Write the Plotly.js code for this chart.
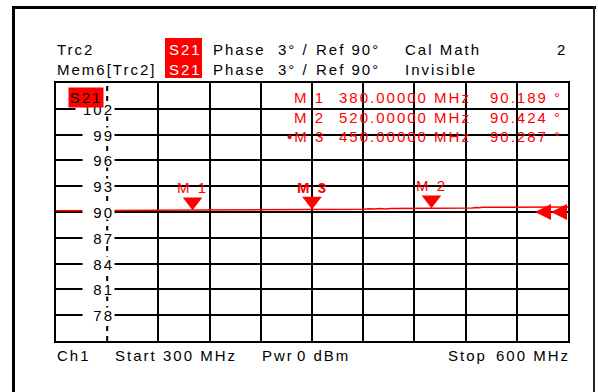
<!DOCTYPE html>
<html><head><meta charset="utf-8">
<script src="https://cdn.plot.ly/plotly-3.0.1.min.js"></script>
<style>
html,body{margin:0;padding:0;background:#fff;}
#chart{width:598px;height:392px;}
svg text{letter-spacing:2px;}
</style></head><body><div id="chart"></div>
<script>
// ---- data ----
const freqMHz  = [300, 320, 340, 360, 380, 384, 388, 392, 396, 400, 404, 420, 440, 450, 465, 480, 484, 487, 490, 493, 496, 505, 520, 532, 544, 546, 548, 550, 570, 600];
const phaseDeg = [90.15, 90.16, 90.17, 90.18, 90.189, 90.21, 90.24, 90.22, 90.27, 90.24, 90.28, 90.28, 90.285, 90.287, 90.30, 90.32, 90.37, 90.34, 90.40, 90.36, 90.41, 90.41, 90.424, 90.44, 90.46, 90.53, 90.49, 90.56, 90.57, 90.58];
const markerNames = ['M 1', 'M 2', 'M 3'];
const markerFreq  = [380, 520, 450];
const markerPhase = [90.189, 90.424, 90.287];
const activeMarker = 2;
const yTickVals = [78, 81, 84, 87, 90, 93, 96, 99, 102];
const xGridVals = [330, 360, 390, 420, 450, 480, 510, 540, 570];
const dashedGridVal = 330;
const refLevel = 90;
const traceLabels = ['Trc2', 'Mem6[Trc2]'];
const traceStatus = ['Cal Math', 'Invisible'];
const measParam = 'S21', formatName = 'Phase', scaleText = '3° /', refText = 'Ref 90°';
const channelName = 'Ch1', startLabel = 'Start', startText = '300 MHz', powerLabel = 'Pwr', powerText = '0 dBm', stopLabel = 'Stop', stopText = '600 MHz', channelNum = '2';

// ---- geometry ----
const L = 56, R = 568, T = 83, B = 341;
const pw = R - L, ph = B - T;
const px = x => (x - L) / pw, py = y => (B - y) / ph;
const xRange = [300, 600], yRange = [75, 105];
const degPerPx = (yRange[1] - yRange[0]) / ph;
const mhzPerPx = (xRange[1] - xRange[0]) / pw;
const FONT = '"Liberation Sans", Arial, sans-serif';
const RED = '#ff0000';

function txt(text, x, y, o) {
  o = o || {};
  return Object.assign({
    text: text, xref: 'paper', yref: 'paper', x: px(x), y: py(y),
    xanchor: 'left', yanchor: 'middle', showarrow: false, borderpad: 0,
    font: {family: FONT, size: 15, color: o.color || '#000'}
  }, o.extra || {});
}

const ann = [];
// header
const hdrY = [49, 69.3];
for (let i = 0; i < 2; i++) {
  ann.push(txt(traceLabels[i], 56, hdrY[i]));
  ann.push(txt(measParam, 185, hdrY[i], {color: '#fff', extra: {xanchor: 'center'}}));
  ann.push(txt(formatName, 211.5, hdrY[i]));
  ann.push(txt(scaleText, 276.5, hdrY[i]));
  ann.push(txt(refText, 315, hdrY[i]));
  ann.push(txt(traceStatus[i], 403.5, hdrY[i]));
}
ann.push(txt(channelNum, 568, hdrY[0], {extra: {xanchor: 'right'}}));

// y tick labels with white boxes
yTickVals.forEach(v => {
  const s = String(v);
  ann.push({
    text: s, xref: 'paper', yref: 'y', x: px(114.5), y: v,
    xanchor: 'right', yanchor: 'middle', align: 'right', showarrow: false,
    bgcolor: '#fff', borderpad: 0, width: 17 + 7 * s.length, height: 14,
    font: {family: FONT, size: 15, color: '#000'}
  });
});

// S21 box in plot
ann.push({
  text: measParam, xref: 'paper', yref: 'paper', x: px(68), y: py(97.5),
  xanchor: 'left', yanchor: 'middle', align: 'center', showarrow: false,
  bgcolor: RED, borderpad: 0, width: 34, height: 19,
  font: {family: FONT, size: 15, color: '#000'}
});

// marker table
const rowY = [97, 117, 136.3];
markerNames.forEach((n, i) => {
  const active = i === activeMarker;
  ann.push(txt(active ? '•' + n : n, active ? 286 : 293, rowY[i], {color: RED}));
  ann.push(txt(markerFreq[i].toFixed(5) + ' MHz', 338, rowY[i], {color: RED}));
  ann.push(txt(markerPhase[i].toFixed(3) + ' °', 489, rowY[i], {color: RED}));
});

// marker labels above triangles
markerNames.forEach((n, i) => {
  ann.push({
    text: i === activeMarker ? '<b>' + n + '</b>' : n,
    xref: 'x', yref: 'y', x: markerFreq[i], y: markerPhase[i], yshift: 22.5,
    xanchor: 'center', yanchor: 'middle', showarrow: false, borderpad: 0,
    font: {family: FONT, size: 15, color: RED}
  });
});

// footer
const fy = 355.5;
ann.push(txt(channelName, 56, fy));
ann.push(txt(startLabel, 113.5, fy));
ann.push(txt(startText, 162, fy));
ann.push(txt(powerLabel, 261, fy));
ann.push(txt(powerText, 296, fy));
ann.push(txt(stopLabel, 446.5, fy));
ann.push(txt(stopText, 495, fy));

const shapes = [
  {type: 'line', xref: 'paper', yref: 'paper', x0: px(12), x1: px(596), y0: py(7.5), y1: py(7.5), line: {color: '#000', width: 3}},
  {type: 'line', xref: 'paper', yref: 'paper', x0: px(13.5), x1: px(13.5), y0: py(6), y1: py(400), line: {color: '#000', width: 3}},
  {type: 'line', xref: 'paper', yref: 'paper', x0: px(594), x1: px(594), y0: py(6), y1: py(400), line: {color: '#222', width: 2}},
  {type: 'rect', xref: 'paper', yref: 'paper', x0: px(165), x1: px(202), y0: py(78), y1: py(38), fillcolor: RED, line: {width: 0}, layer: 'above'},
  {type: 'line', xref: 'x', yref: 'paper', x0: dashedGridVal, x1: dashedGridVal, y0: 0, y1: 1, line: {color: '#000', width: 2, dash: '5px,5px'}, layer: 'below'}
];

const refArrowOffsetsPx = [33, 17];

const data = [
  {x: freqMHz, y: phaseDeg, mode: 'lines', line: {color: RED, width: 1.5}, hoverinfo: 'skip'},
  {x: markerFreq, y: markerPhase.map(v => v + 8.5 * degPerPx), mode: 'markers', cliponaxis: false,
   marker: {symbol: 'triangle-down', size: 17, color: RED, line: {width: 0}}},
  {x: refArrowOffsetsPx.map(o => xRange[1] - o * mhzPerPx), y: refArrowOffsetsPx.map(() => refLevel),
   mode: 'markers', cliponaxis: false, marker: {symbol: 'arrow-left', size: 16, color: RED, line: {width: 0}}}
];

const axBase = {showticklabels: false, ticks: '', showgrid: true, gridcolor: '#000', gridwidth: 2,
  zeroline: false, showline: true, mirror: true, linecolor: '#000', linewidth: 2, fixedrange: true};

const layout = {
  width: 598, height: 392,
  margin: {l: L, r: 598 - R, t: T, b: 392 - B, pad: 0},
  paper_bgcolor: '#fff', plot_bgcolor: '#fff', showlegend: false,
  xaxis: Object.assign({}, axBase, {range: xRange, tickvals: xGridVals.filter(v => v !== dashedGridVal)}),
  yaxis: Object.assign({}, axBase, {range: yRange, tickvals: yTickVals}),
  annotations: ann, shapes: shapes
};

Plotly.newPlot('chart', data, layout, {staticPlot: true, displayModeBar: false});
</script></body></html>
